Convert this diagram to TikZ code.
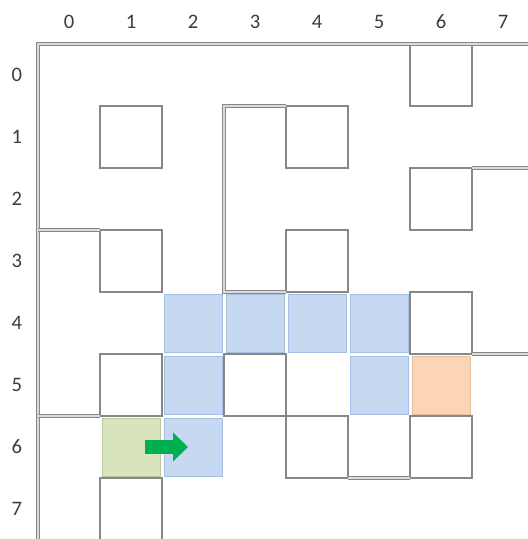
\documentclass[tikz,border=0pt]{standalone}
\usepackage{fontspec}
\setmainfont{Carlito}
\usepackage{tikz}
\usetikzlibrary{arrows.meta}
\definecolor{wallgray}{RGB}{135, 135, 135}
\definecolor{labelgray}{RGB}{60, 60, 60}
\definecolor{pathblue}{RGB}{198, 217, 241}
\definecolor{pathborder}{RGB}{165, 190, 228}
\definecolor{startgreen}{RGB}{216, 228, 188}
\definecolor{startborder}{RGB}{188, 198, 160}
\definecolor{goalorange}{RGB}{251, 213, 181}
\definecolor{arrowgreen}{RGB}{0, 176, 80}

\begin{document}
\begin{tikzpicture}[
      x=1.64cm, y=-1.64cm, % une case = 1 unité, lignes vers le bas
      block/.style={
          draw=wallgray, line width=0.9pt,
          minimum size=1.64cm, inner sep=0pt, outer sep=0pt
      },
      visited/.style={
          draw=pathborder, fill=pathblue, line width=0.5pt,
          minimum size=1.53cm, inner sep=0pt
      },
      startcell/.style={
          visited, draw=startborder, fill=startgreen
      },
      goalcell/.style={
          visited, draw=goalorange!90!black, fill=goalorange
      },
      wall/.style={
          draw=wallgray, line width=0.7pt, double=wallgray!30, double distance=1.1pt
      },
      idx/.style={
          text=labelgray, font=\fontsize{15.5}{18}\selectfont, inner sep=0pt
      },
      move/.style={
          draw=arrowgreen, line width=10.5pt,
          -{Triangle[length=11.25pt, width=21.75pt, line width=0pt]},
          shorten <=10.5pt, shorten >=3.75pt
      }
  ]
      \useasboundingbox (-0.613, -0.710) rectangle (7.903, 7.984);

      % Cases parcourues
      \node[visited] (p24) at (2.5, 4.5) {};
      \node[visited] (p34) at (3.5, 4.5) {};
      \node[visited] (p44) at (4.5, 4.5) {};
      \node[visited] (p54) at (5.5, 4.5) {};
      \node[visited] (p25) at (2.5, 5.5) {};
      \node[visited] (p55) at (5.5, 5.5) {};
      \node[visited] (p26) at (2.5, 6.5) {};

      % Départ et arrivée
      \node[startcell] (start) at (1.5, 6.5) {};
      \node[goalcell] (goal) at (6.5, 5.5) {};

      % Obstacles
      \node[block] (m60) at (6.5, 0.5) {};
      \node[block] (m11) at (1.5, 1.5) {};
      \node[block] (m41) at (4.5, 1.5) {};
      \node[block] (m62) at (6.5, 2.5) {};
      \node[block] (m13) at (1.5, 3.5) {};
      \node[block] (m43) at (4.5, 3.5) {};
      \node[block] (m64) at (6.5, 4.5) {};
      \node[block] (m15) at (1.5, 5.5) {};
      \node[block] (m35) at (3.5, 5.5) {};
      \node[block] (m46) at (4.5, 6.5) {};
      \node[block] (m66) at (6.5, 6.5) {};
      \node[block] (m17) at (1.5, 7.5) {};

      % Murs
      \draw[wall] (7.95, 0) -- (0, 0) -- (0, 8.05);
      \draw[wall] (4, 1) -- (3, 1) -- (3, 4) -- (4, 4);
      \draw[wall] (0, 3) -- (1, 3);
      \draw[wall] (0, 6) -- (1, 6);
      \draw[wall] (7, 2) -- (7.95, 2);
      \draw[wall] (7, 5) -- (7.95, 5);
      \draw[wall] (5, 7) -- (6, 7);

      % Indices des colonnes
      \node[idx] (c0) at (0.5, -0.355) {0};
      \node[idx] (c1) at (1.5, -0.355) {1};
      \node[idx] (c2) at (2.5, -0.355) {2};
      \node[idx] (c3) at (3.5, -0.355) {3};
      \node[idx] (c4) at (4.5, -0.355) {4};
      \node[idx] (c5) at (5.5, -0.355) {5};
      \node[idx] (c6) at (6.5, -0.355) {6};
      \node[idx] (c7) at (7.5, -0.355) {7};

      % Indices des lignes
      \node[idx] (r0) at (-0.34, 0.5) {0};
      \node[idx] (r1) at (-0.34, 1.5) {1};
      \node[idx] (r2) at (-0.34, 2.5) {2};
      \node[idx] (r3) at (-0.34, 3.5) {3};
      \node[idx] (r4) at (-0.34, 4.5) {4};
      \node[idx] (r5) at (-0.34, 5.5) {5};
      \node[idx] (r6) at (-0.34, 6.5) {6};
      \node[idx] (r7) at (-0.34, 7.5) {7};

      % Déplacement
      \draw[move] (start.center) -- (p26.center);
  \end{tikzpicture}
\end{document}
